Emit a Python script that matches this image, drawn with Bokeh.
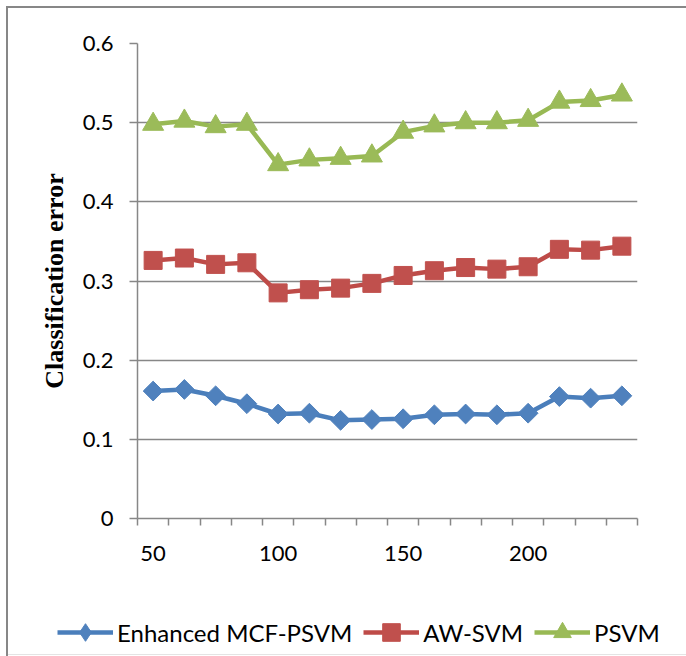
from bokeh.plotting import figure
from bokeh.models import Range1d, FixedTicker, Legend, LegendItem
from bokeh.layouts import column, row
from bokeh.embed import file_html
from bokeh.resources import INLINE
import numpy as np

# ---- data ----
x_cats = [50, 62.5, 75, 87.5, 100, 112.5, 125, 137.5, 150, 162.5, 175, 187.5, 200, 212.5, 225, 237.5]
x_labels = [50, 100, 150, 200]
y_ticks = [0, 0.1, 0.2, 0.3, 0.4, 0.5, 0.6]
y_tick_labels = ["0", "0.1", "0.2", "0.3", "0.4", "0.5", "0.6"]

series_names = ["Enhanced MCF-PSVM", "AW-SVM", "PSVM"]
enhanced = [0.161, 0.163, 0.155, 0.145, 0.132, 0.133, 0.124, 0.125, 0.126, 0.131, 0.132, 0.131, 0.133, 0.154, 0.152, 0.155]
awsvm = [0.326, 0.329, 0.321, 0.323, 0.285, 0.289, 0.291, 0.297, 0.307, 0.313, 0.317, 0.315, 0.318, 0.340, 0.339, 0.344]
psvm = [0.498, 0.502, 0.495, 0.498, 0.447, 0.453, 0.455, 0.458, 0.488, 0.496, 0.500, 0.500, 0.503, 0.526, 0.528, 0.535]

line_colors = ["#4A7EBB", "#BE4B48", "#98B954"]
marker_colors = ["#4F81BD", "#C0504D", "#9BBB59"]

GRAY = "#878787"
TICK_FONT = "Lato"

half = (x_cats[1] - x_cats[0]) / 2.0
boundaries = [x - half for x in x_cats] + [x_cats[-1] + half]

p = figure(width=686, height=580, output_backend="svg", toolbar_location=None,
           x_range=Range1d(x_cats[0] - half, x_cats[-1] + half),
           y_range=Range1d(y_ticks[0], y_ticks[-1]),
           min_border_left=137, min_border_right=49, min_border_top=43, min_border_bottom=62)
p.outline_line_color = None
p.background_fill_color = "white"
p.border_fill_color = None
p.styles = {
    "background": ("linear-gradient(#878787, #878787) 6px 6px / 2px 600px no-repeat, "
                   "linear-gradient(#878787, #878787) 6px 6px / 680px 2px no-repeat, "
                   "white"),
}

# x axis
xa = p.xaxis[0]
xa.ticker = FixedTicker(ticks=x_labels, minor_ticks=boundaries)
xa.major_tick_line_color = None
xa.major_tick_out = 0
xa.major_tick_in = 0
xa.minor_tick_line_color = GRAY
xa.minor_tick_line_width = 1.5
xa.minor_tick_out = 7
xa.minor_tick_in = 0
xa.axis_line_color = GRAY
xa.axis_line_width = 1.5
xa.major_label_text_font = TICK_FONT
xa.major_label_text_font_size = "22px"
xa.major_label_text_color = "black"
xa.major_label_standoff = 20

# y axis
ya = p.yaxis[0]
ya.ticker = FixedTicker(ticks=y_ticks, minor_ticks=[])
ya.major_label_overrides = {t: lab for t, lab in zip(y_ticks, y_tick_labels)}
ya.major_tick_line_color = GRAY
ya.major_tick_line_width = 1.5
ya.major_tick_out = 8
ya.major_tick_in = 0
ya.axis_line_color = GRAY
ya.axis_line_width = 1.5
ya.major_label_text_font = TICK_FONT
ya.major_label_text_font_size = "22px"
ya.major_label_text_color = "black"
ya.major_label_standoff = 16
ya.axis_label = "Classification error"
ya.axis_label_text_font = "Liberation Serif"
ya.axis_label_text_font_style = "bold"
ya.axis_label_text_font_size = "26px"
ya.axis_label_text_color = "black"
ya.axis_label_standoff = 11

p.xgrid.grid_line_color = None
p.ygrid.ticker = FixedTicker(ticks=y_ticks)
p.ygrid.grid_line_color = GRAY
p.ygrid.grid_line_width = 1.5

# legend strip (separate figure so the legend is not clipped by the chart frame)
lf = figure(width=686, height=76, output_backend="svg", toolbar_location=None,
            x_axis_type=None, y_axis_type=None,
            x_range=Range1d(-10, -9), y_range=Range1d(-10, -9),
            min_border_left=0, min_border_right=0, min_border_top=0, min_border_bottom=0)
lf.outline_line_color = None
lf.grid.grid_line_color = None
lf.border_fill_color = None
lf.background_fill_alpha = 0
lf.styles = {
    "background": ("linear-gradient(#878787, #878787) 6px 0px / 2px 76px no-repeat, "
                   "linear-gradient(#e4e4e4, #e4e4e4) 6px 74px / 680px 1px no-repeat, "
                   "white"),
}

items = []
data = [enhanced, awsvm, psvm]
markers = ["square", "square", "triangle"]
legend_markers = ["diamond", "square", "triangle"]
sizes = [14, 18, 21]
angles = [np.pi / 4, 0, 0]
for name, ys, lc, mc, mk, lmk, sz, ang in zip(series_names, data, line_colors, marker_colors,
                                              markers, legend_markers, sizes, angles):
    p.line(x_cats, ys, line_color=lc, line_width=4.5)
    p.scatter(x_cats, ys, marker=mk, size=sz, angle=ang, fill_color=mc, line_color=mc)
    # same series drawn out of view in the strip: they only carry the legend swatches
    lr = lf.line(x_cats, ys, line_color=lc, line_width=4.5)
    sr = lf.scatter(x_cats, ys, marker=lmk, size=sz, fill_color=mc, line_color=mc)
    items.append(LegendItem(label=name, renderers=[lr, sr]))

legend = Legend(items=items, orientation="horizontal", location=(57, 2),
                glyph_width=56, glyph_height=44, label_standoff=4, spacing=11,
                padding=0, margin=0, border_line_color=None, background_fill_alpha=0,
                label_text_font=TICK_FONT, label_text_font_size="24px",
                label_text_color="black")
lf.add_layout(legend, "center")

layout = column(row(p), row(lf), spacing=0)
open("out.html", "w").write(file_html(layout, INLINE))
